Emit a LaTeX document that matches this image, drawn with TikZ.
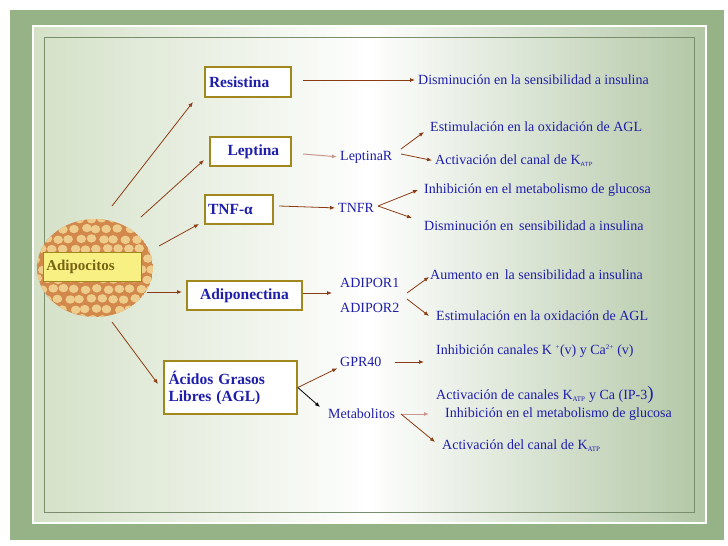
\documentclass[tikz,border=0pt]{standalone}
\usepackage{fontspec}
\setmainfont{Liberation Serif}
\usetikzlibrary{arrows.meta}
\definecolor{txtb}{RGB}{30,30,170}
\definecolor{boxb}{RGB}{160,135,30}
\definecolor{arr}{RGB}{140,60,20}
\definecolor{arrl}{RGB}{200,150,140}
\definecolor{gfr}{RGB}{150,178,135}
\definecolor{gpale}{RGB}{205,220,190}
\definecolor{gright}{RGB}{165,190,150}
\definecolor{cellc}{RGB}{238,205,140}
\definecolor{cellb}{RGB}{210,135,75}
\definecolor{ybox}{RGB}{248,240,130}
\definecolor{ytxt}{RGB}{120,100,20}
\begin{document}
\begin{tikzpicture}[x=1pt,y=-1pt,
  bx/.style={draw=boxb,line width=1.6pt,fill=white,text=txtb,font=\fontsize{15.5}{17}\selectfont\bfseries,inner sep=0pt},
  lbl/.style={anchor=west,text=txtb,font=\fontsize{14}{16}\selectfont,inner sep=0pt},
  sb/.style={font=\fontsize{7}{7}\selectfont},
  ar/.style={draw=arr,line width=0.8pt,shorten >=3pt,-{Latex[length=5pt,width=4pt]}},
  arl/.style={draw=arrl,line width=1pt,shorten >=3pt,-{Latex[length=5pt,width=4pt]},
  }]
\useasboundingbox (0,0) rectangle (728,546);
\fill[white] (0,0) rectangle (728,546);
\fill[gfr] (10,10) rectangle (724,540);
\shade[left color=gpale,right color=gright,middle color=white] (33,26) rectangle (706,523);
\fill[white,opacity=0.5] (33,26) rectangle (706,523);
\shade[left color=gpale,right color=gright,middle color=white,opacity=0.7] (33,26) rectangle (706,523);
\draw[white,line width=1.2pt] (33,26) rectangle (706,523);
\draw[gfr!80!black,line width=0.6pt] (44,37) rectangle (694,512);
% adipocyte circle
\begin{scope}
\clip (95,268) ellipse (58 and 49);
\fill[cellb] (95,268) ellipse (58 and 49);
\foreach \i in {0,...,11}{\foreach \j in {0,...,10}{
  \pgfmathsetmacro{\xx}{35+\i*11+mod(\j,2)*5+rnd*3}
  \pgfmathsetmacro{\yy}{218+\j*10+rnd*2}
  \fill[cellc] (\xx,\yy) ellipse (4.8 and 4.2);
}}
\end{scope}
\node[draw=boxb,line width=0.6pt,fill=ybox,minimum width=98pt,minimum height=29pt,text=ytxt,font=\fontsize{15}{17}\selectfont\bfseries,inner sep=2pt,anchor=north west,text width=92pt,align=left] (adi) at (43,252) {Adipocitos};
% boxes
\node[bx,minimum width=86pt,minimum height=30pt,text width=78pt,align=left] (res) at (248,82) {Resistina};
\node[bx,minimum width=81pt,minimum height=29pt,text width=74pt,align=left] (lep) at (250.5,151.5) {\hspace{14pt}Leptina};
\node[bx,minimum width=68pt,minimum height=29pt,text width=62pt,align=left] (tnf) at (239,209.5) {TNF-α};
\node[bx,minimum width=115pt,minimum height=29pt] (adp) at (244.5,295.5) {Adiponectina};
\node[bx,minimum width=133pt,minimum height=53pt,text width=124pt,align=left] (agl) at (230.5,387.5) {Ácidos Grasos\\Libres (AGL)};
% labels
\node[lbl] (d1) at (418,80) {Disminución en la sensibilidad a insulina};
\node[lbl] (e1) at (430,127) {Estimulación en la oxidación de AGL};
\node[lbl] (lr) at (340,157) {LeptinaR};
\node[lbl] (a1) at (435,161) {Activación del canal de K\textsubscript{\sffamily\fontsize{6}{6}\selectfont ATP}};
\node[lbl] (i1) at (424,190) {Inhibición en el metabolismo de glucosa};
\node[lbl] (tr) at (338,208) {TNFR};
\node[lbl] (d2) at (424,226) {Disminución en\, sensibilidad a insulina};
\node[lbl] (ad1) at (340,283) {ADIPOR1};
\node[lbl] (ad2) at (340,308) {ADIPOR2};
\node[lbl] (au) at (430,275) {Aumento en\, la sensibilidad a insulina};
\node[lbl] (e2) at (436,316) {Estimulación en la oxidación de AGL};
\node[lbl] (gp) at (340,362) {GPR40};
\node[lbl] (ic) at (436,351) {Inhibición canales K \textsuperscript{\fontsize{7}{7}\selectfont +}(v) y Ca\textsuperscript{\fontsize{7}{7}\selectfont 2+} (v)};
\node[lbl] (ac) at (436,395) {Activación de canales K\textsubscript{\fontsize{7}{7}\selectfont ATP} y Ca (IP-3{\fontsize{19}{19}\selectfont )}};
\node[lbl] (met) at (328,414) {Metabolitos};
\node[lbl] (ig) at (445,414) {Inhibición en el metabolismo de glucosa};
\node[lbl] (a2) at (442,446) {Activación del canal de K\textsubscript{\fontsize{7}{7}\selectfont ATP}};
% coordinates
\coordinate (c1) at (112,206); \coordinate (c2) at (141,217);
\coordinate (c3) at (159,246); \coordinate (c4) at (147,292);
\coordinate (c5) at (112,322);
\draw[ar,shorten >=0pt] (c1) -- (193,102);
\draw[ar,shorten >=0pt] (c2) -- (204,160);
\draw[ar,shorten >=0pt] (c3) -- (199,224);
\draw[ar,shorten >=0pt] (c4) -- (182,292);
\draw[ar,shorten >=0pt] (c5) -- (158,384);
\draw[ar] (303,80) -- (d1.west);
\draw[arl] (303,154) -- (lr.west);
\draw[ar,shorten >=0pt] (401,149) -- (424,132);
\draw[ar] (401,154) -- (a1.west);
\draw[ar] (279,206) -- (tr.west);
\draw[ar,shorten >=0pt] (378,206) -- (418,190);
\draw[ar,shorten >=0pt] (378,206) -- (412,218);
\draw[ar,shorten >=0pt] (303,293) -- (332,293);
\draw[ar,shorten >=0pt] (407,293) -- (429,277);
\draw[ar,shorten >=0pt] (407,299) -- (429,316);
\draw[ar] (agl.east) -- (gp.south west);
\draw[black,line width=0.8pt,-{Latex[length=5pt,width=4pt]}] (agl.east) -- (320,407);
\draw[ar,shorten >=0pt] (395,362) -- (424,362);
\draw[arl,shorten >=0pt] (401,414) -- (429,414);
\draw[ar,shorten >=0pt] (401,414) -- (435,442);
\end{tikzpicture}
\end{document}
